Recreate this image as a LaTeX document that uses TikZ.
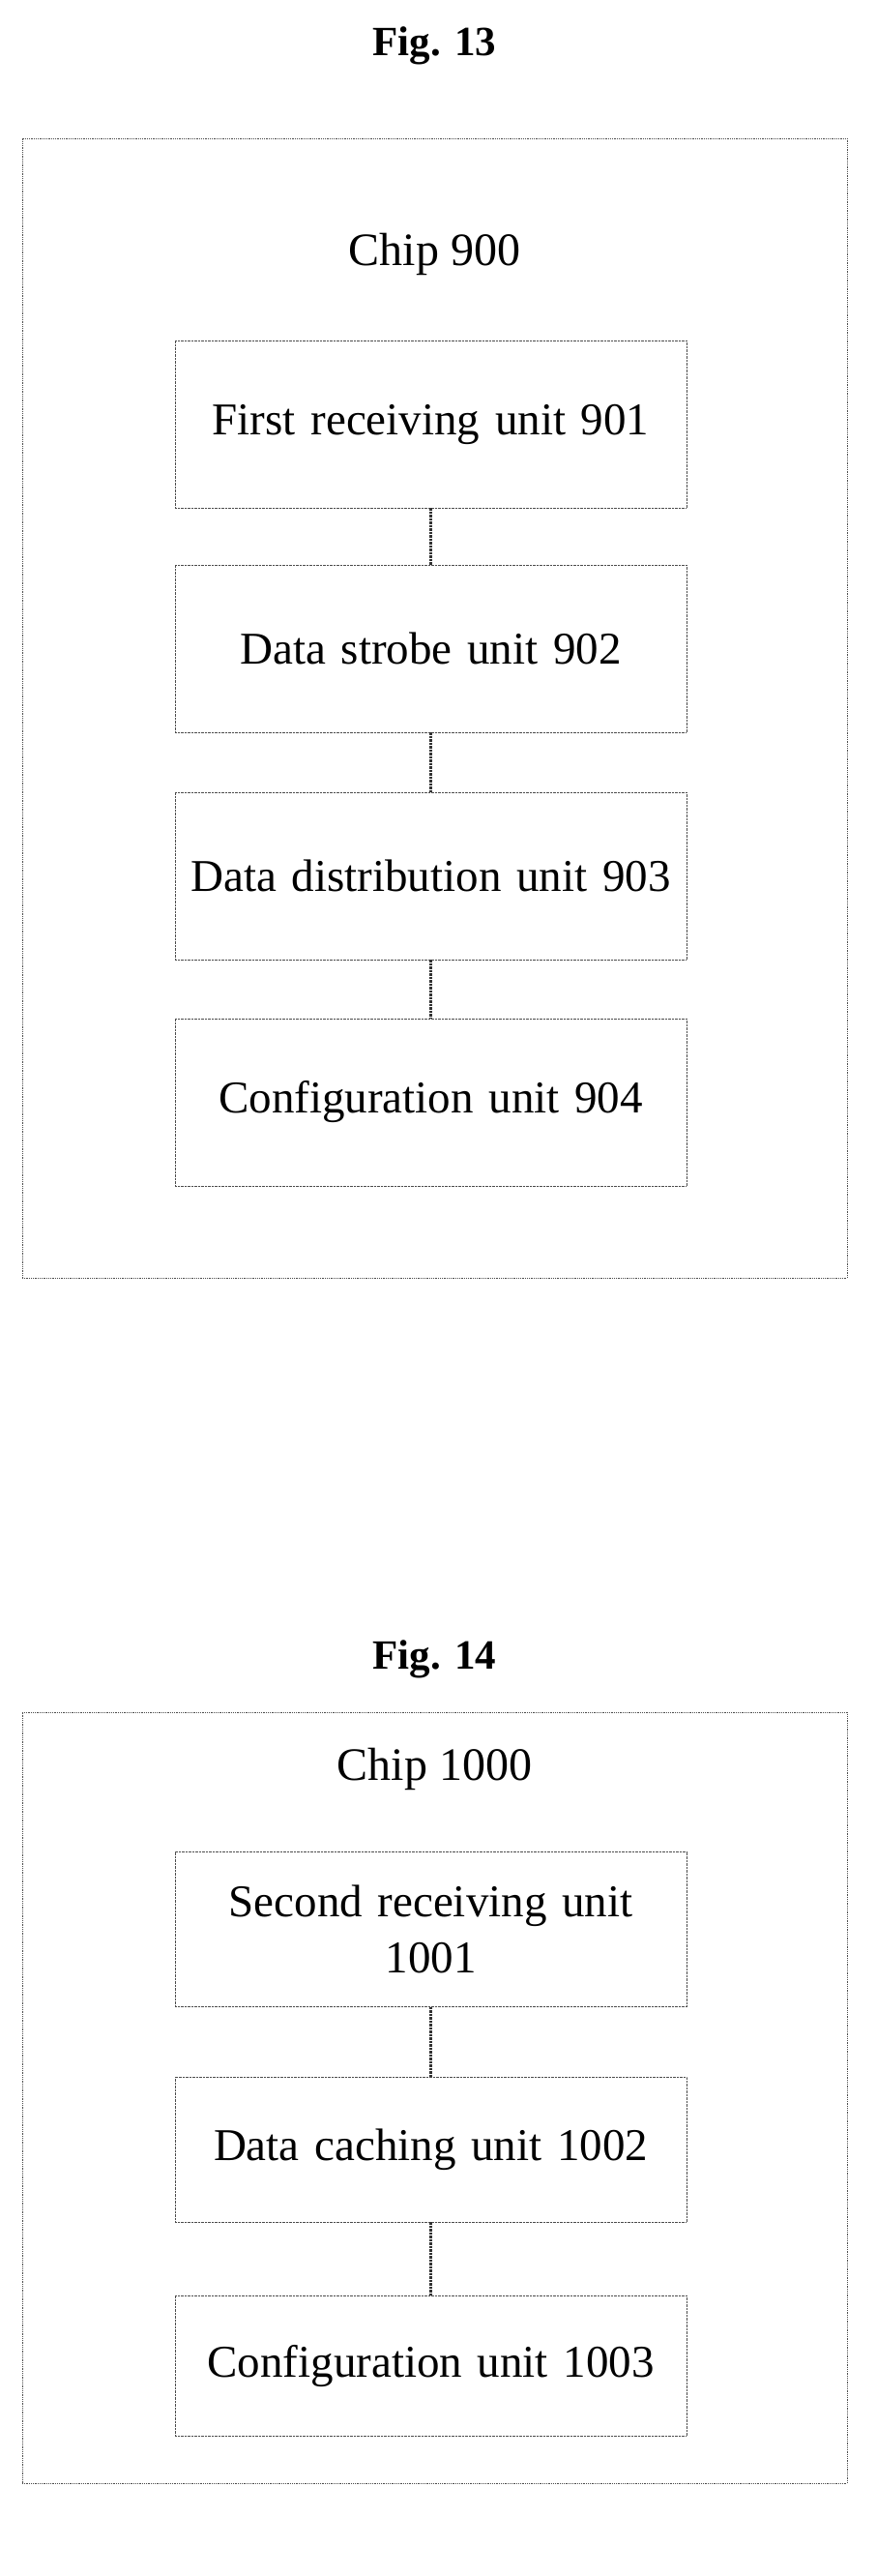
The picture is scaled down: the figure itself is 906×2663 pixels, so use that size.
\documentclass[tikz,border=0pt]{standalone}
\usepackage{fontspec}
\setmainfont{Liberation Serif}
\tikzset{unit/.style={draw=black!70, densely dotted, minimum width=529pt, align=center, text width=510pt, font=\fontsize{47}{58}\selectfont}}
\tikzset{chip/.style={draw=black!70, densely dotted, minimum width=853pt, line width=0.8pt}}
\tikzset{link/.style={line width=2.5pt, densely dotted, color=black!80}}
\tikzset{title/.style={font=\fontsize{43}{50}\selectfont\bfseries}}
\tikzset{label/.style={font=\fontsize{48}{56}\selectfont}}

\begin{document}
\begin{tikzpicture}[x=1pt, y=-1pt]
        \useasboundingbox (0,0) rectangle (906,2663);

        \node[title] (f13) at (449.5,47) {Fig. 13};
        \node[chip, minimum height=1178pt] (c9) at (449.5,732) {};
        \node[label] (l9) at (449.5,263) {Chip 900};
        \node[unit, minimum height=173pt] (u1) at (445.5,438.5) {First receiving unit 901};
        \node[unit, minimum height=173pt] (u2) at (445.5,670.5) {Data strobe unit 902};
        \node[unit, minimum height=173pt] (u3) at (445.5,905.5) {Data distribution unit 903};
        \node[unit, minimum height=173pt] (u4) at (445.5,1139.5) {Configuration unit 904};

        \draw[link] (u1) -- (u2);
        \draw[link] (u2) -- (u3);
        \draw[link] (u3) -- (u4);

        \node[title] (f14) at (449.5,1715) {Fig. 14};
        \node[chip, minimum height=797pt] (c10) at (449.5,2168.5) {};
        \node[label] (l10) at (449.5,1829) {Chip 1000};
        \node[unit, minimum height=160pt] (v1) at (445.5,1994.5) {Second receiving unit\\1001};
        \node[unit, minimum height=150pt] (v2) at (445.5,2222) {Data caching unit 1002};
        \node[unit, minimum height=145pt] (v3) at (445.5,2445.5) {Configuration unit 1003};

        \draw[link] (v1) -- (v2);
        \draw[link] (v2) -- (v3);
    \end{tikzpicture}
\end{document}
